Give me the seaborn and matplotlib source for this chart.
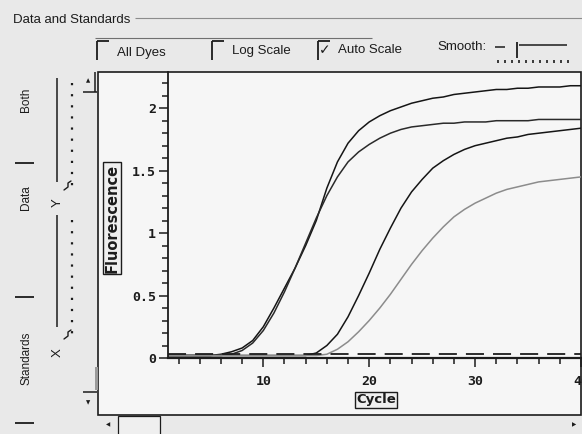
import matplotlib
matplotlib.use("Agg")
import matplotlib.pyplot as plt
import numpy as np
import pandas as pd
import seaborn as sns
from matplotlib import font_manager
from matplotlib.patches import Rectangle
from matplotlib.ticker import MultipleLocator

# amplification curves (cycle 1..40)
cycles = list(range(1, 41))
well_a = [0.02, 0.02, 0.02, 0.02, 0.02, 0.03, 0.05, 0.08, 0.14, 0.25,
          0.40, 0.56, 0.72, 0.90, 1.10, 1.36, 1.57, 1.72, 1.82, 1.89,
          1.94, 1.98, 2.01, 2.04, 2.06, 2.08, 2.09, 2.11, 2.12, 2.13,
          2.14, 2.15, 2.15, 2.16, 2.16, 2.17, 2.17, 2.17, 2.18, 2.18]
well_b = [0.02, 0.02, 0.02, 0.02, 0.02, 0.02, 0.03, 0.06, 0.12, 0.22,
          0.36, 0.53, 0.72, 0.92, 1.12, 1.30, 1.45, 1.57, 1.65, 1.71,
          1.76, 1.80, 1.83, 1.85, 1.86, 1.87, 1.88, 1.88, 1.89, 1.89,
          1.89, 1.90, 1.90, 1.90, 1.90, 1.91, 1.91, 1.91, 1.91, 1.91]
well_c = [0.02, 0.02, 0.02, 0.02, 0.02, 0.02, 0.02, 0.02, 0.02, 0.02,
          0.02, 0.02, 0.02, 0.02, 0.04, 0.10, 0.19, 0.33, 0.50, 0.68,
          0.87, 1.04, 1.20, 1.33, 1.43, 1.52, 1.58, 1.63, 1.67, 1.70,
          1.72, 1.74, 1.76, 1.77, 1.79, 1.80, 1.81, 1.82, 1.83, 1.84]
well_d = [0.02, 0.02, 0.02, 0.02, 0.02, 0.02, 0.02, 0.02, 0.02, 0.02,
          0.02, 0.02, 0.02, 0.02, 0.02, 0.03, 0.07, 0.13, 0.21, 0.30,
          0.40, 0.51, 0.63, 0.75, 0.86, 0.96, 1.05, 1.13, 1.19, 1.24,
          1.28, 1.32, 1.35, 1.37, 1.39, 1.41, 1.42, 1.43, 1.44, 1.45]
well_names = ["A", "B", "C", "D"]
threshold = 0.03

y_ticks = [0, 0.5, 1, 1.5, 2]
y_tick_labels = ["0", "0.5", "1", "1.5", "2"]
x_ticks = [10, 20, 30, 40]
x_tick_labels = ["10", "20", "30", "40"]

side_labels = ["Both", "Data", "Standards"]
check_labels = ["All Dyes", "Log Scale", "Auto Scale"]

sns.set_theme(style="white")
plt.rcParams["font.family"] = ["DejaVu Sans"]

installed = {f.name for f in font_manager.fontManager.ttflist}
if "Liberation Sans Narrow" in installed:
    UI_FONT, UI_SIZE = "Liberation Sans Narrow", 11.5
else:
    UI_FONT, UI_SIZE = "Liberation Sans", 9.5

INK = "#1c1c1c"
W, H = 582, 434

fig = plt.figure(figsize=(W / 100, H / 100), dpi=100, facecolor="#e9e9e9")

# overlay in pixel coordinates for the window chrome
ui = fig.add_axes([0, 0, 1, 1], zorder=0)
ui.set_xlim(0, W)
ui.set_ylim(H, 0)
ui.axis("off")


def hline(x0, x1, y, **kw):
    ui.plot([x0, x1], [y, y], color=kw.pop("color", INK), lw=kw.pop("lw", 1.1),
            solid_capstyle="butt", **kw)


def vline(x, y0, y1, **kw):
    ui.plot([x, x], [y0, y1], color=kw.pop("color", INK), lw=kw.pop("lw", 1.1),
            solid_capstyle="butt", **kw)


# plot window
ui.add_patch(Rectangle((98, 72), 483, 343, facecolor="#f6f6f6",
                       edgecolor=INK, lw=1.2))

# group box header
ui.text(13, 20, "Data and Standards", family=UI_FONT, fontsize=UI_SIZE,
        va="center", ha="left", color=INK)
hline(135, W, 18, color="#8c8c8c", lw=0.8)

# checkbox row
hline(95, 372, 38, color="#707070", lw=0.8)
for x, label, ty in zip([97, 212, 318], check_labels, [53, 51, 50]):
    vline(x, 41, 60, lw=1.3)
    hline(x, x + 12, 41, lw=1.3)
    ui.text(x + 20, ty, label, family=UI_FONT, fontsize=UI_SIZE,
            va="center", ha="left", color=INK)
ui.text(325, 50, "\u2713", fontsize=10, fontweight="bold", va="center",
        ha="center", color=INK)
ui.text(437, 47, "Smooth:", family=UI_FONT, fontsize=UI_SIZE,
        va="center", ha="left", color=INK)
hline(495, 505, 47)
vline(517, 42, 58, lw=1.3)
hline(519, 567, 45)
for x in range(498, 570, 7):
    vline(x, 60, 63, lw=1.2)

# left selector panel
for y, label in zip([100, 198, 358], side_labels):
    ui.text(26, y, label, family=UI_FONT, fontsize=UI_SIZE - 1, rotation=90,
            va="center", ha="center", color=INK)
for y in [163, 297, 423]:
    hline(15, 34, y, lw=1.3)
vline(57, 78, 182)
vline(57, 215, 327)
vline(72, 83, 187, lw=1.6, linestyle=(0, (1, 4)))
vline(72, 220, 337, lw=1.6, linestyle=(0, (1, 4)))
ui.text(58, 203, "Y", family=UI_FONT, fontsize=UI_SIZE, rotation=90,
        va="center", ha="center", color=INK)
ui.text(58, 353, "X", family=UI_FONT, fontsize=UI_SIZE, rotation=90,
        va="center", ha="center", color=INK)
ui.plot([64, 68, 68, 71], [190, 187, 183, 181], color=INK, lw=1)
ui.plot([64, 68, 68, 71], [339, 336, 332, 330], color=INK, lw=1)

# scroll bars
ui.text(88, 81, "\u25b2", fontsize=4, va="center", ha="center", color=INK)
hline(83, 97, 92)
vline(95, 72, 92)
hline(83, 97, 392)
ui.add_patch(Rectangle((95, 367), 3, 23, facecolor="#9a9a9a", edgecolor="none"))
ui.text(88, 403, "\u25bc", fontsize=4, va="center", ha="center", color=INK)
ui.text(108, 425, "\u25c0", fontsize=4, va="center", ha="center", color=INK)
ui.add_patch(Rectangle((118, 416), 42, 20, facecolor="#efefef",
                       edgecolor=INK, lw=0.9))
ui.text(574, 425, "\u25b6", fontsize=4, va="center", ha="center", color=INK)

# axis title boxes
box = dict(boxstyle="square,pad=0.12", facecolor="#efefef", edgecolor=INK, lw=1)
ui.text(112, 218, "Fluorescence", rotation=90, fontsize=10.5, fontweight="bold",
        va="center", ha="center", color=INK, bbox=box)
ui.text(376, 400, "Cycle", fontsize=9.5, fontweight="bold",
        va="center", ha="center", color=INK, bbox=box)

# the amplification plot
ax = fig.add_axes([168 / W, (H - 358) / H, (581 - 168) / W, (358 - 72) / H], zorder=1)
ax.patch.set_alpha(0)

df = pd.DataFrame({
    "Cycle": cycles * 4,
    "Fluorescence": well_a + well_b + well_c + well_d,
    "Well": np.repeat(well_names, len(cycles)),
})
sns.lineplot(data=df, x="Cycle", y="Fluorescence", hue="Well",
             palette=["#151515", "#2a2a2a", "#151515", "#8c8c8c"],
             linewidth=1.1, legend=False, ax=ax)
ax.axhline(threshold, color=INK, lw=1.3, linestyle=(0, (10, 5)))

ax.set_xlim(1, 40)
ax.set_ylim(0, 2.29)
ax.set_xticks(x_ticks, x_tick_labels)
ax.set_yticks(y_ticks, y_tick_labels)
ax.xaxis.set_minor_locator(MultipleLocator(2))
ax.yaxis.set_minor_locator(MultipleLocator(0.1))
ax.tick_params(which="both", direction="out", color=INK, width=1.1,
               bottom=True, left=True)
ax.tick_params(which="major", length=6.5)
ax.tick_params(which="minor", length=4.3)
ax.tick_params(axis="x", pad=6)
ax.tick_params(axis="y", pad=2)
for lab in ax.get_xticklabels() + ax.get_yticklabels():
    lab.set_family("DejaVu Sans Mono")
    lab.set_fontsize(9.5)
    lab.set_fontweight("bold")
    lab.set_color(INK)
ax.set_xlabel("")
ax.set_ylabel("")
for side in ["top", "right"]:
    ax.spines[side].set_visible(False)
ax.spines["left"].set_color(INK)
ax.spines["left"].set_linewidth(1.3)
ax.spines["bottom"].set_color(INK)
ax.spines["bottom"].set_linewidth(1.6)

fig.savefig("out.png", dpi=100, facecolor=fig.get_facecolor())
